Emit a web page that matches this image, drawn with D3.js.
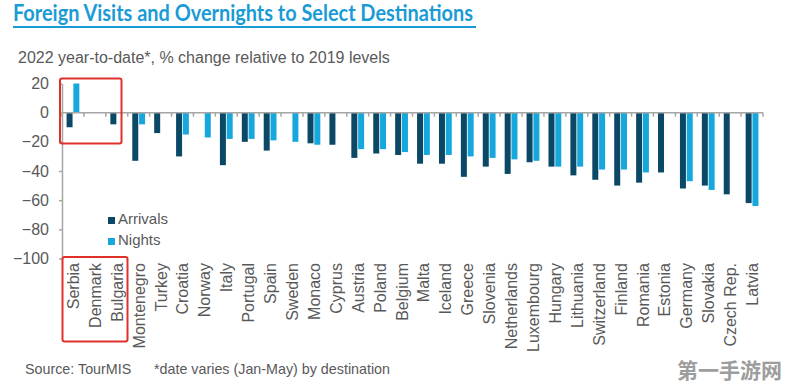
<!DOCTYPE html>
<html>
<head>
<meta charset="utf-8">
<script src="https://cdn.jsdelivr.net/npm/d3@7/dist/d3.min.js"></script>
<style>
  body { margin: 0; background: #fff; }
  svg { display: block; }
  text { font-family: "Liberation Sans", Arial, sans-serif; fill: #595959; }
</style>
</head>
<body>
<svg id="chart" width="786" height="390"></svg>
<script>
// data (% change vs 2019)
const countries = ["Serbia", "Denmark", "Bulgaria", "Montenegro", "Turkey", "Croatia", "Norway", "Italy",
  "Portugal", "Spain", "Sweden", "Monaco", "Cyprus", "Austria", "Poland", "Belgium", "Malta", "Iceland",
  "Greece", "Slovenia", "Netherlands", "Luxembourg", "Hungary", "Lithuania", "Switzerland", "Finland",
  "Romania", "Estonia", "Germany", "Slovakia", "Czech Rep.", "Latvia"];
const arrivals = [-10, null, -8, -33, -14, -30, null, -36, -20, -26, null, -21, -22, -31, -28, -29, -35, -35,
  -44, -37, -42, -34, -37, -43, -46, -50, -48, -41, -52, -50, -56, -62];
const nights = [20, null, null, -8, null, -15, -17, -18, -18, -19, -20, -22, null, -25, -25, -27, -29, -29,
  -30, -31, -32, -33, -37, -37, -39, -39, -41, null, -47, -53, null, -64];
const yTicks = [20, 0, -20, -40, -60, -80, -100];
const seriesNames = ["Arrivals", "Nights"];
const seriesColors = ["#0a4865", "#16a8dc"];

const svg = d3.select("#chart");

// title block
svg.append("text")
  .attr("x", 13).attr("y", 21)
  .attr("textLength", 460).attr("lengthAdjust", "spacingAndGlyphs")
  .style("font-family", "Lato, 'Open Sans', sans-serif")
  .style("font-weight", "bold").style("font-size", "22px")
  .style("fill", "#1b9bd6")
  .text("Foreign Visits and Overnights to Select Destinations");
svg.append("line")
  .attr("x1", 13).attr("x2", 476).attr("y1", 27).attr("y2", 27)
  .attr("stroke", "#1b9bd6").attr("stroke-width", 2);

svg.append("text")
  .attr("x", 18).attr("y", 63)
  .style("font-size", "16px")
  .text("2022 year-to-date*, % change relative to 2019 levels");

// scales
const x0 = d3.scaleBand().domain(countries).range([62, 763]).paddingInner(0).paddingOuter(0);
const x1 = d3.scaleBand().domain(seriesNames).range([0, x0.bandwidth()])
  .paddingInner(0.12).paddingOuter(0.67);
const y = d3.scaleLinear().domain([-100, 20]).range([258.5, 83.5]);

// y axis
const yAxis = svg.append("g")
  .attr("transform", "translate(62,0)")
  .call(d3.axisLeft(y).tickValues(yTicks).tickSize(3).tickSizeOuter(0).tickPadding(10));
yAxis.select(".domain").attr("stroke", "#a6a6a6").attr("stroke-width", 1.5);
yAxis.selectAll(".tick line").attr("stroke", "#a6a6a6").attr("stroke-width", 1.5);
yAxis.selectAll(".tick text")
  .style("font-size", "16px").style("fill", "#595959")
  .style("font-family", "'Liberation Sans', Arial, sans-serif");

// bars
const rows = countries.map((c, i) => ({ country: c, values: [arrivals[i], nights[i]] }));
const groups = svg.append("g").selectAll("g")
  .data(rows).enter().append("g")
  .attr("transform", d => `translate(${x0(d.country)},0)`);
groups.selectAll("rect")
  .data(d => d.values.map((v, k) => ({ key: seriesNames[k], value: v, k }))
    .filter(e => e.value !== null))
  .enter().append("rect")
  .attr("x", d => x1(d.key))
  .attr("width", x1.bandwidth())
  .attr("y", d => y(Math.max(0, d.value)))
  .attr("height", d => Math.abs(y(d.value) - y(0)))
  .attr("fill", d => seriesColors[d.k]);

// zero line with category ticks
const xAxis = svg.append("g")
  .attr("transform", `translate(0,${y(0)})`);
xAxis.append("line")
  .attr("x1", 62).attr("x2", 763)
  .attr("stroke", "#a6a6a6").attr("stroke-width", 1.5);
xAxis.selectAll(".cat-tick")
  .data(countries.concat(["__end"]))
  .enter().append("line")
  .attr("class", "cat-tick")
  .attr("x1", (d, i) => i < countries.length ? x0(d) : 763)
  .attr("x2", (d, i) => i < countries.length ? x0(d) : 763)
  .attr("y1", 0).attr("y2", 4)
  .attr("stroke", "#a6a6a6").attr("stroke-width", 1.5);

// category labels (rotated)
svg.append("g").selectAll("text")
  .data(countries).enter().append("text")
  .attr("transform", d => `translate(${x0(d) + x0.bandwidth() / 2 + 6},263) rotate(-90)`)
  .attr("text-anchor", "end")
  .style("font-size", "16px")
  .text(d => d);

// legend
const legend = svg.append("g").attr("transform", "translate(108,210)");
seriesNames.forEach((name, i) => {
  legend.append("rect")
    .attr("x", 0).attr("y", 7 + i * 21).attr("width", 7).attr("height", 7)
    .attr("fill", seriesColors[i]);
  legend.append("text")
    .attr("x", 10).attr("y", 13.5 + i * 21)
    .style("font-size", "15px")
    .text(name);
});

// red highlight boxes
svg.append("rect")
  .attr("x", 60).attr("y", 78.5).attr("width", 61.5).attr("height", 65)
  .attr("rx", 2).attr("fill", "none").attr("stroke", "#e0302a").attr("stroke-width", 2);
svg.append("rect")
  .attr("x", 62.5).attr("y", 257).attr("width", 65).attr("height", 84.5)
  .attr("rx", 2).attr("fill", "none").attr("stroke", "#e0302a").attr("stroke-width", 2);

// footnotes
svg.append("text").attr("x", 25).attr("y", 374).style("font-size", "14.3px").text("Source: TourMIS");
svg.append("text").attr("x", 154).attr("y", 374).style("font-size", "14.3px")
  .text("*date varies (Jan-May) by destination");

// watermark
svg.append("text")
  .attr("x", 677).attr("y", 378)
  .style("font-family", "'Noto Sans CJK SC', sans-serif")
  .style("font-weight", "bold").style("font-size", "21px")
  .style("fill", "#8c8c8c").style("opacity", 0.85)
  .text("第一手游网");
</script>
</body>
</html>
